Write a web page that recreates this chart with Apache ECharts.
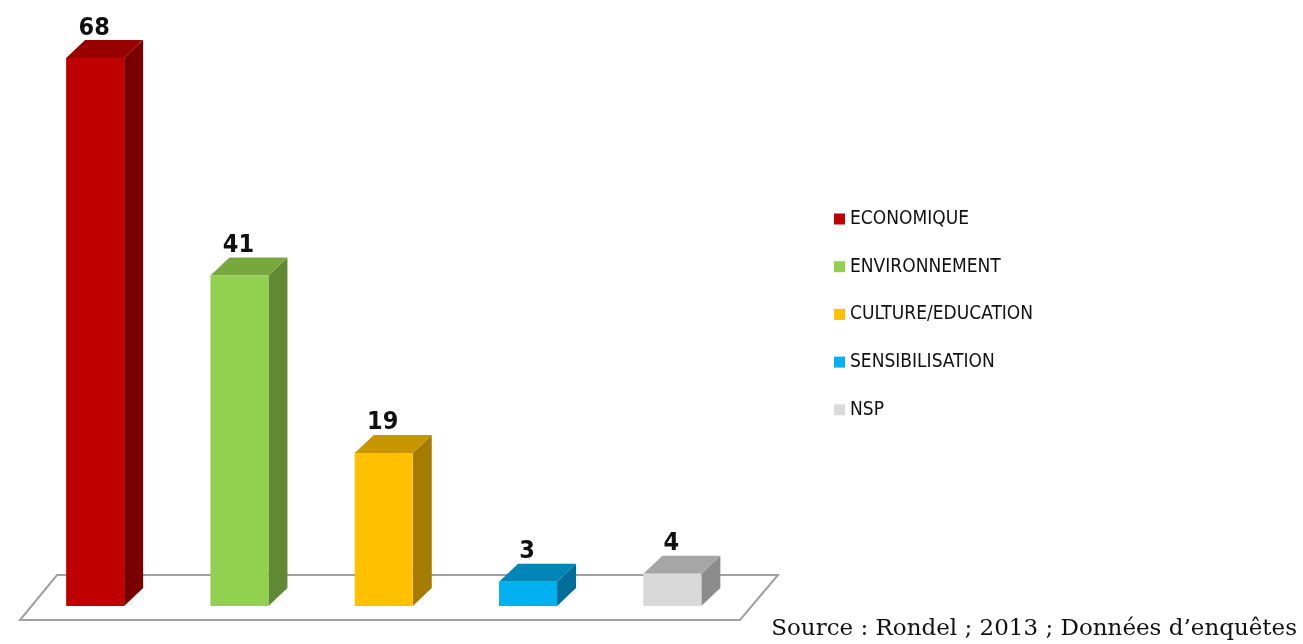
<!DOCTYPE html>
<html>
<head>
<meta charset="utf-8">
<style>
  html, body { margin: 0; padding: 0; background: #ffffff; }
  #chart { width: 1303px; height: 644px; }
</style>
<script src="https://cdn.jsdelivr.net/npm/echarts@6/dist/echarts.min.js"></script>
</head>
<body>
<div id="chart"></div>
<script>
// Survey answers, by category
const categories = ['ECONOMIQUE', 'ENVIRONNEMENT', 'CULTURE/EDUCATION', 'SENSIBILISATION', 'NSP'];
const values = [68, 41, 19, 3, 4];

// Face colours of each 3D block: front, top, side
const frontColors = ['#C00000', '#92D050', '#FFC000', '#00B0F0', '#D9D9D9'];
const topColors = ['#990000', '#76A83E', '#C89600', '#0086B8', '#A6A6A6'];
const sideColors = ['#7A0000', '#5F8A33', '#A67C00', '#006E98', '#8C8C8C'];

const sourceNote = 'Source : Rondel ; 2013 ; Données d\u2019enquêtes';

const DEPTH_X = 19;
const DEPTH_Y = 18;
const narrowFamily = '"DejaVu Sans Condensed", "Liberation Sans Narrow", sans-serif';
const labelFont = 'bold 25px ' + narrowFamily;

function makeRenderItem(ci) {
  return function (params, api) {
    const idx = api.value(0);
    const val = api.value(1);
    const top = api.coord([idx, val]);
    const base = api.coord([idx, 0]);
    const band = api.size([1, 0])[0];
    const w = band * 0.402;
    const x0 = top[0] - w / 2;
    const x1 = top[0] + w / 2;
    const yt = top[1];
    const yb = base[1];
    return {
      type: 'group',
      children: [
        {
          type: 'polygon',
          shape: { points: [[x1, yt], [x1 + DEPTH_X, yt - DEPTH_Y], [x1 + DEPTH_X, yb - DEPTH_Y], [x1, yb]] },
          style: { fill: sideColors[ci] }
        },
        {
          type: 'polygon',
          shape: { points: [[x0, yt], [x0 + DEPTH_X, yt - DEPTH_Y], [x1 + DEPTH_X, yt - DEPTH_Y], [x1, yt]] },
          style: { fill: topColors[ci] }
        },
        {
          type: 'rect',
          shape: { x: x0, y: yt, width: w, height: yb - yt },
          style: { fill: frontColors[ci] }
        },
        {
          type: 'text',
          style: {
            text: String(val),
            x: top[0] - 1,
            y: yt - DEPTH_Y - 12,
            textAlign: 'center',
            textVerticalAlign: 'middle',
            font: labelFont,
            fill: '#111111'
          }
        }
      ]
    };
  };
}

const series = categories.map(function (name, i) {
  return {
    name: name,
    type: 'custom',
    clip: false,
    z: 3,
    itemStyle: { color: frontColors[i] },
    renderItem: makeRenderItem(i),
    encode: { x: 0, y: 1 },
    data: [[i, values[i]]]
  };
});

const chart = echarts.init(document.getElementById('chart'), null, { renderer: 'canvas' });
chart.setOption({
  backgroundColor: '#ffffff',
  animation: false,
  grid: { left: 23, right: 558.5, top: 58, bottom: 38, containLabel: false },
  xAxis: {
    type: 'category',
    data: categories,
    boundaryGap: true,
    axisLine: { show: false },
    axisTick: { show: false },
    axisLabel: { show: false },
    splitLine: { show: false }
  },
  yAxis: {
    type: 'value',
    min: 0,
    max: 68,
    axisLine: { show: false },
    axisTick: { show: false },
    axisLabel: { show: false },
    splitLine: { show: false }
  },
  legend: {
    orient: 'vertical',
    left: 829,
    top: 204,
    icon: 'rect',
    itemWidth: 11,
    itemHeight: 11,
    itemGap: 27.7,
    itemTextGap: 5,
    selectedMode: false,
    textStyle: {
      fontFamily: narrowFamily,
      fontSize: 19,
      lineHeight: 20,
      color: '#111111'
    },
    data: categories
  },
  graphic: [
    {
      // floor plate under the blocks
      type: 'polygon',
      z: 1,
      shape: { points: [[57, 575], [778, 575], [740, 620], [20, 620]] },
      style: { fill: '#ffffff', stroke: '#a0a0a0', lineWidth: 2 }
    },
    {
      type: 'text',
      z: 5,
      style: {
        text: sourceNote,
        x: 1297,
        y: 629,
        textAlign: 'right',
        textVerticalAlign: 'middle',
        font: '23px "DejaVu Serif", "Liberation Serif", serif',
        fill: '#111111'
      }
    }
  ],
  series: series
});
</script>
</body>
</html>
